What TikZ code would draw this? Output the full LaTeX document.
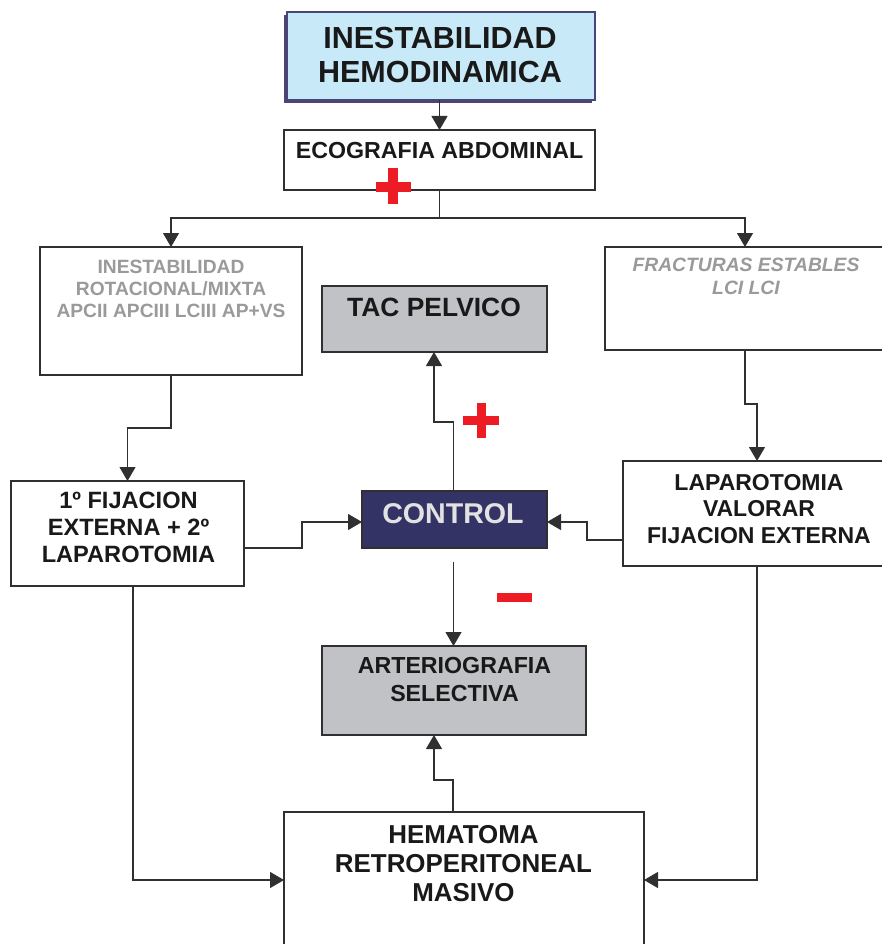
\documentclass[tikz,border=0pt]{standalone}
\usepackage{fontspec}
\setmainfont{Liberation Sans}
\usetikzlibrary{arrows.meta}
\definecolor{titlefill}{HTML}{C8EAF8}
\definecolor{titleedge}{HTML}{4A4575}
\definecolor{boxgray}{HTML}{C1C2C5}
\definecolor{navy}{HTML}{343366}
\definecolor{txtgray}{HTML}{9A9A9A}
\definecolor{ctrltxt}{HTML}{E2E2E2}
\definecolor{signred}{HTML}{ED1C24}
\definecolor{edge}{HTML}{303030}
\begin{document}
\begin{tikzpicture}[x=1pt,y=-1pt,
  box/.style={draw=edge,line width=1.1pt,inner sep=0pt,outer sep=0pt,fill=white},
  graybox/.style={box,fill=boxgray},
  txt/.style={align=center,inner sep=0pt,outer sep=0pt,font=\bfseries},
  conn/.style={draw=edge,line width=1.1pt},
  arr/.style={conn,-{Triangle[width=16pt,length=14pt]}},
  sign/.style={fill=signred,draw=none}
]
\useasboundingbox (0,0) rectangle (882,944);

% title with shadow
\fill[titleedge] (284,15) rectangle (592,103);
\node[box,draw=titleedge,fill=titlefill,minimum width=308pt,minimum height=88pt] (title) at (441,56) {};
\node[txt,font=\fontsize{30.5}{34}\selectfont\bfseries,text=black!90] (titlet) at (440,55) {INESTABILIDAD\\HEMODINAMICA};

% ecografia
\node[box,minimum width=311pt,minimum height=60pt] (eco) at (439.5,160) {};
\node[txt,font=\fontsize{23.2}{26}\selectfont\bfseries,text=black!90] (ecot) at (439.5,150.5) {ECOGRAFIA ABDOMINAL};
\fill[sign] (376,182) rectangle (411,192);
\fill[sign] (388,168) rectangle (398,204);

% left grey-text box
\node[box,minimum width=262pt,minimum height=128pt] (lb) at (171,311) {};
\node[txt,font=\fontsize{19.2}{22}\selectfont\bfseries,text=txtgray] (lbt) at (171,289) {INESTABILIDAD\\ROTACIONAL/MIXTA\\APCII APCIII LCIII AP+VS};

% right grey-text box
\node[box,minimum width=280pt,minimum height=103pt] (rb) at (745,298.5) {};
\node[txt,font=\fontsize{19.3}{23}\selectfont\bfseries\itshape,text=txtgray] (rbt) at (746,276.5) {FRACTURAS ESTABLES\\LCI LCI};

% TAC pelvico
\node[graybox,minimum width=225pt,minimum height=66pt] (tac) at (434.5,319) {};
\node[txt,font=\fontsize{26.4}{29}\selectfont\bfseries,text=black!90] (tact) at (434,307) {TAC PELVICO};

% fijacion
\node[box,minimum width=233pt,minimum height=105pt] (fij) at (127.5,533.5) {};
\node[txt,font=\fontsize{23.6}{27}\selectfont\bfseries,text=black!90] (fijt) at (128.5,527.5) {1º FIJACION\\EXTERNA + 2º\\LAPAROTOMIA};

% control
\node[box,fill=navy,minimum width=185pt,minimum height=57pt] (ctrl) at (454.5,519.5) {};
\node[txt,font=\fontsize{28.6}{32}\selectfont\bfseries,text=ctrltxt] (ctrlt) at (453,513.5) {CONTROL};

% laparotomia
\node[box,minimum width=268pt,minimum height=105pt] (lap) at (757,513.5) {};
\node[txt,font=\fontsize{23}{26.5}\selectfont\bfseries,text=black!90] (lapt) at (759,509) {LAPAROTOMIA\\VALORAR\\FIJACION EXTERNA};

% arteriografia
\node[graybox,minimum width=264pt,minimum height=89pt] (art) at (454,690.5) {};
\node[txt,font=\fontsize{23.2}{28}\selectfont\bfseries,text=black!90] (artt) at (454.5,680) {ARTERIOGRAFIA\\SELECTIVA};

% hematoma
\node[box,minimum width=360pt,minimum height=136pt] (hem) at (464,880) {};
\node[txt,font=\fontsize{25.9}{29}\selectfont\bfseries,text=black!90] (hemt) at (463.5,864) {HEMATOMA\\RETROPERITONEAL\\MASIVO};

% signs near control
\fill[sign] (463,416) rectangle (499,425);
\fill[sign] (477,403) rectangle (486,438);
\fill[sign] (497,593) rectangle (532,602);

% connectors
\draw[arr] (eco.north |- title.south) -- (eco.north);
\draw[conn] (eco.south) -- ++(0,28) coordinate (split);
\draw[arr] (split) -| (lb.north);
\draw[arr] (split) -| (rb.north);
\draw[arr] (lb.south) -- ++(0,53) -| (fij.north);
\draw[arr] (rb.south) -- ++(0,54) -| (lap.north);
\draw[arr] ([yshift=-14.5pt]fij.east) -- ++(58,0) |- ([yshift=-2.5pt]ctrl.west);
\draw[arr] ([yshift=-26.5pt]lap.west) -- ++(-36,0) |- ([yshift=-2.5pt]ctrl.east);
\draw[arr] ([xshift=-1pt]ctrl.north) -- ++(0,-69) -| ([xshift=-0.5pt]tac.south);
\draw[arr] ([yshift=-14pt,xshift=-1pt]ctrl.south) -- ([xshift=-0.5pt]art.north);
\draw[arr] ([xshift=-11pt]hem.north) -- ++(0,-32) -| ([xshift=-20pt]art.south);
\draw[arr] ([xshift=5.5pt]fij.south) |- (hem.west);
\draw[arr] (lap.south) |- (hem.east);
\end{tikzpicture}
\end{document}
